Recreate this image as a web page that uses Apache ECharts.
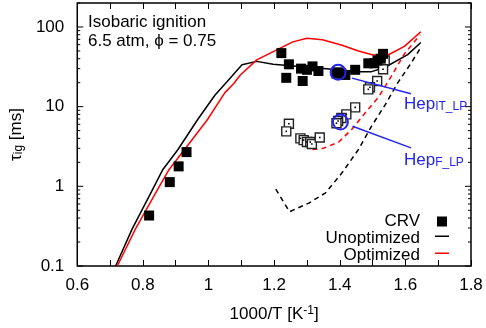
<!DOCTYPE html>
<html>
<head>
<meta charset="utf-8">
<script src="https://cdn.jsdelivr.net/npm/echarts@6/dist/echarts.min.js"></script>
<style>
  html, body { margin: 0; padding: 0; background: #fff; }
  #chart { width: 486px; height: 328px; }
</style>
</head>
<body>
<div id="chart"></div>
<script>
// Ignition delay vs inverse temperature, isobaric, 6.5 atm, phi = 0.75

// CRV measurements (main ignition), [1000/T, tau_ig ms]
const crvMain = [
  [0.819, 0.43], [0.882, 1.13], [0.909, 1.78], [0.933, 2.69],
  [1.222, 47], [1.245, 34], [1.237, 23], [1.287, 21], [1.282, 30],
  [1.300, 29], [1.317, 32], [1.335, 28], [1.390, 26], [1.395, 27],
  [1.405, 26], [1.417, 25], [1.447, 29], [1.487, 35], [1.505, 35],
  [1.515, 38], [1.525, 40], [1.532, 46]
];

// CRV measurements (first stage), open squares
const crvFirstStage = [
  [1.537, 38], [1.532, 29.5], [1.514, 21], [1.492, 17.5], [1.487, 16.5],
  [1.447, 9.8], [1.420, 8.0], [1.405, 7.2], [1.395, 6.6], [1.390, 6.2],
  [1.245, 6.1], [1.237, 4.9], [1.280, 4.0], [1.290, 3.8], [1.300, 3.6],
  [1.310, 3.6], [1.315, 3.4], [1.339, 4.1]
];

// Highlighted experiments (HepIT_LP and HepF_LP)
const hepPoints = [[1.395, 27], [1.402, 6.4]];

// Simulations: solid = main ignition, dashed = first stage
const unoptimizedMain = [
  [0.717, 0.1], [0.767, 0.29], [0.827, 0.87], [0.861, 1.63], [0.907, 2.9],
  [0.967, 6.9], [1.020, 14], [1.057, 20.7], [1.102, 33.5], [1.147, 37],
  [1.197, 34], [1.277, 32], [1.377, 29.5], [1.450, 27.5], [1.497, 27.5],
  [1.537, 31], [1.607, 45], [1.647, 64]
];
const optimizedMain = [
  [0.722, 0.1], [0.777, 0.29], [0.842, 0.87], [0.880, 1.63], [0.927, 2.9],
  [0.997, 6.9], [1.050, 15], [1.077, 19.5], [1.097, 25], [1.147, 38.6],
  [1.217, 54], [1.257, 65], [1.300, 72], [1.347, 69], [1.407, 59],
  [1.457, 50], [1.502, 44.5], [1.547, 44.5], [1.597, 57], [1.647, 87]
];
const unoptimizedFirst = [
  [1.205, 0.92], [1.247, 0.48], [1.307, 0.62], [1.357, 0.83], [1.407, 1.48],
  [1.457, 2.9], [1.497, 5.7], [1.540, 10.8], [1.577, 20], [1.617, 35],
  [1.650, 58]
];
const optimizedFirst = [
  [1.317, 2.9], [1.350, 3.0], [1.397, 3.6], [1.437, 5.2], [1.477, 8.3],
  [1.517, 13], [1.557, 24], [1.597, 46], [1.645, 80]
];

// Annotation arrows: [tail, head] in data units
const arrowIT = [[1.617, 14.5], [1.437, 22.8]];
const arrowF = [[1.617, 3.04], [1.439, 5.67]];

// Axis settings
const xMin = 0.6, xMax = 1.8;
const yMin = 0.1, yMax = 200;
const yDecades = [0.1, 1, 10, 100];

// log-axis tick positions: major at each decade, minor at 2..9
const yTicks = [];
yDecades.forEach(d => {
  for (let k = 1; k <= 9; k++) {
    const v = +(d * k).toPrecision(3);
    if (v <= yMax) yTicks.push([xMin, v, k === 1 ? 1 : 0]);
  }
});

const FONT = 'Liberation Sans, Arial, Helvetica, sans-serif';
const BLUE = '#2424f0';
// short line swatch; the tiny trailing square keeps the stroke centred on the text
const LINE_ICON = 'path://M0,0H14V1.5H0ZM7,6H7.01V6.01H7Z';

const chart = echarts.init(document.getElementById('chart'), null, { renderer: 'canvas' });

function lineSeries(name, data, color, dashed) {
  return {
    name: name,
    type: 'line',
    data: data,
    symbol: 'none',
    smooth: false,
    z: 2,
    lineStyle: { color: color, width: 1.5, type: dashed ? [5, 4] : 'solid' },
    itemStyle: { color: color },
    emphasis: { disabled: true },
    animation: false
  };
}

chart.setOption({
  animation: false,
  textStyle: { fontFamily: FONT },
  grid: {
    left: 71, right: 15, top: 3, bottom: 61,
    show: true, borderColor: '#000', borderWidth: 1.5, backgroundColor: 'transparent'
  },
  xAxis: [{
    type: 'value', min: xMin, max: xMax, interval: 0.2,
    position: 'bottom',
    axisLine: { show: false },
    axisTick: { show: true, inside: true, length: 6, lineStyle: { color: '#000', width: 1 } },
    minorTick: { show: true, splitNumber: 2, length: 6, lineStyle: { color: '#000', width: 1 } },
    splitLine: { show: false },
    axisLabel: { color: '#000', fontSize: 17, margin: 11, fontFamily: FONT },
    name: '{m|1000/T [K}{sup|-1}{m|]}',
    nameLocation: 'middle', nameGap: 39,
    nameTextStyle: {
      color: '#000', fontFamily: FONT,
      rich: {
        m: { fontSize: 17, color: '#000', fontFamily: FONT },
        sup: { fontSize: 12, color: '#000', fontFamily: FONT, padding: [0, 0, 7, 0] }
      }
    }
  }, {
    type: 'value', min: xMin, max: xMax, interval: 0.2,
    position: 'top',
    axisLine: { show: false },
    axisTick: { show: true, inside: true, length: 6, lineStyle: { color: '#000', width: 1 } },
    minorTick: { show: true, splitNumber: 2, length: 6, lineStyle: { color: '#000', width: 1 } },
    splitLine: { show: false },
    axisLabel: { show: false }
  }],
  yAxis: {
    type: 'log', logBase: 10, min: yMin, max: yMax,
    axisLine: { show: false },
    axisTick: { show: false },
    splitLine: { show: false },
    axisLabel: {
      color: '#000', fontSize: 17, margin: 13, fontFamily: FONT,
      formatter: function (v) {
        const l = Math.log10(v);
        return Math.abs(l - Math.round(l)) < 1e-6 && v <= 100 ? String(+v.toPrecision(3)) : '';
      }
    },
    name: '{m|τ}{s|ig}{m| [ms]}',
    nameLocation: 'middle', nameGap: 39, nameRotate: 90,
    nameTextStyle: {
      color: '#000', fontFamily: FONT,
      rich: {
        m: { fontSize: 17, color: '#000', fontFamily: FONT, padding: [0, 0, 4, 0] },
        s: { fontSize: 12, color: '#000', fontFamily: FONT }
      }
    }
  },
  legend: {
    orient: 'vertical', right: 37, top: 213, padding: 0,
    align: 'right', itemGap: 0,
    itemWidth: 14, itemHeight: 10,
    selectedMode: false,
    textStyle: { color: '#000', fontSize: 17, fontFamily: FONT, padding: [0, 10, 0, 0] },
    data: [
      { name: 'CRV', icon: 'path://M0,0H10V10H0Z' },
      { name: 'Unoptimized', icon: LINE_ICON },
      { name: 'Optimized', icon: LINE_ICON }
    ]
  },
  graphic: [{
    type: 'text', left: 88, top: 13, z: 10,
    style: {
      text: 'Isobaric ignition\n6.5 atm, ϕ = 0.75',
      font: '17px ' + FONT, fill: '#000', lineHeight: 19
    }
  }, {
    type: 'text', left: 404, top: 96, z: 10,
    style: {
      text: '{m|Hep}{s|IT_LP}',
      rich: {
        m: { fontSize: 17, fontFamily: FONT, fill: BLUE, color: BLUE, padding: [0, 0, 5, 0] },
        s: { fontSize: 12, fontFamily: FONT, fill: BLUE, color: BLUE }
      }
    }
  }, {
    type: 'text', left: 404, top: 152, z: 10,
    style: {
      text: '{m|Hep}{s|F_LP}',
      rich: {
        m: { fontSize: 17, fontFamily: FONT, fill: BLUE, color: BLUE, padding: [0, 0, 5, 0] },
        s: { fontSize: 12, fontFamily: FONT, fill: BLUE, color: BLUE }
      }
    }
  }],
  series: [
    lineSeries('Unoptimized', unoptimizedMain, '#000', false),
    lineSeries('Unoptimized first stage', unoptimizedFirst, '#000', true),
    lineSeries('Optimized', optimizedMain, '#ff0000', false),
    lineSeries('Optimized first stage', optimizedFirst, '#ff0000', true),
    {
      name: 'CRV first stage', type: 'scatter', data: crvFirstStage,
      symbol: 'rect', symbolSize: 9, z: 3,
      itemStyle: { color: '#fff', borderColor: '#222', borderWidth: 1.4, opacity: 1 },
      emphasis: { disabled: true }
    },
    {
      name: 'CRV first stage dot', type: 'scatter', data: crvFirstStage,
      symbol: 'rect', symbolSize: 1.6, z: 4,
      itemStyle: { color: '#000', opacity: 1 },
      emphasis: { disabled: true }
    },
    {
      name: 'CRV', type: 'scatter', data: crvMain,
      symbol: 'rect', symbolSize: 10, z: 5,
      itemStyle: { color: '#000', opacity: 1 },
      emphasis: { disabled: true }
    },
    {
      name: 'Hep', type: 'scatter', data: hepPoints,
      symbol: 'circle', symbolSize: 15, z: 6,
      itemStyle: { color: 'rgba(0,0,0,0)', borderColor: BLUE, borderWidth: 2, opacity: 1 },
      emphasis: { disabled: true },
      markLine: {
        silent: true, animation: false,
        symbol: ['none', 'arrow'], symbolSize: [0, 10],
        label: { show: false },
        lineStyle: { color: BLUE, width: 1.5, type: 'solid', opacity: 1 },
        data: [
          [{ coord: arrowIT[0] }, { coord: arrowIT[1] }],
          [{ coord: arrowF[0] }, { coord: arrowF[1] }]
        ]
      }
    },
    {
      name: 'yTicks', type: 'custom', data: yTicks, z: 1, silent: true,
      clip: false,
      renderItem: function (params, api) {
        const v = api.value(1);
        const len = api.value(2) ? 6 : 3;
        const pL = api.coord([xMin, v]);
        const pR = api.coord([xMax, v]);
        const st = { stroke: '#000', lineWidth: 1 };
        return {
          type: 'group',
          children: [
            { type: 'line', shape: { x1: pL[0], y1: pL[1], x2: pL[0] + len, y2: pL[1] }, style: st },
            { type: 'line', shape: { x1: pR[0] - len, y1: pR[1], x2: pR[0], y2: pR[1] }, style: st }
          ]
        };
      }
    }
  ]
});
</script>
</body>
</html>
